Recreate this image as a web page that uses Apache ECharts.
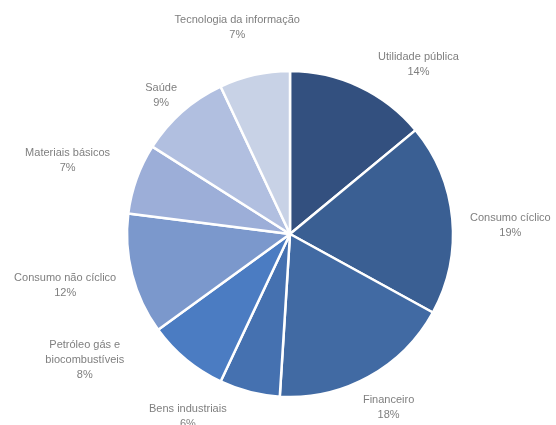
<!DOCTYPE html>
<html><head><meta charset="utf-8">
<script src="https://cdn.jsdelivr.net/npm/echarts@6/dist/echarts.min.js"></script>
<style>html,body{margin:0;padding:0;background:#fff}#c{width:556px;height:425px}</style>
</head><body><div id="c"></div>
<script>
const categories = ['Utilidade pública','Consumo cíclico','Financeiro','Bens industriais','Petróleo gás e\nbiocombustíveis','Consumo não cíclico','Materiais básicos','Saúde','Tecnologia da informação'];
const shares = [14,19,18,6,8,12,7,9,7];
const colors = ['#33507f','#3a5f93','#416aa3','#4571b0','#4b7cc2','#7b98cc','#9caed8','#b1bfe0','#c8d2e6'];
// label nudges (pixels) applied after the library's outside label placement
const labelNudge = [[35,6],[2,10],[0,3],[-48,-5],[-66,-29],[-2,3],[-14,-8],[0,7],[0,-17]];

const chart = echarts.init(document.getElementById('c'), null, {renderer:'canvas'});
const GAP = 16;
chart.setOption({
  animation:false,
  series:[{
    type:'pie',
    center:[290,234],
    radius:163,
    startAngle:90,
    clockwise:true,
    avoidLabelOverlap:false,
    data: categories.map((n,i)=>({name:n, value:shares[i], itemStyle:{color:colors[i]}})),
    itemStyle:{borderColor:'#fff', borderWidth:2.5},
    label:{show:true, position:'outside', formatter:'{b}\n{c}%', color:'#7f7f7f',
      fontFamily:'Liberation Sans', fontSize:11, lineHeight:15, align:'center'},
    labelLine:{show:false, length:10, length2:0},
    labelLayout:function(p){
      const pts = p.labelLinePoints;
      const dx = pts[1][0]-pts[0][0], dy = pts[1][1]-pts[0][1];
      const L = Math.sqrt(dx*dx+dy*dy)||1;
      const ux = dx/L, uy = dy/L;
      const w = p.labelRect.width, h = p.labelRect.height;
      const n = labelNudge[p.dataIndex];
      return {
        x: pts[0][0] + ux*GAP + ux*w/2 + n[0],
        y: pts[0][1] + uy*GAP + uy*h/2 + n[1],
        align:'center', verticalAlign:'middle'
      };
    }
  }]
});
</script></body></html>
